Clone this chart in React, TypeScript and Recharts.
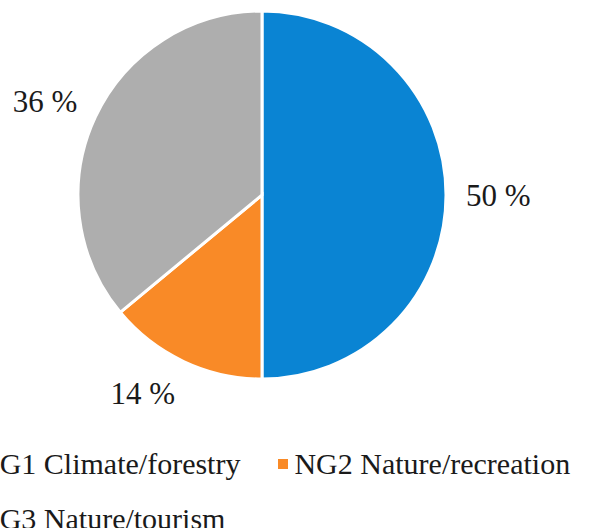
import React from 'react';
import { PieChart, Pie, Cell, Legend } from 'recharts';

const groups = ['NG1 Climate/forestry', 'NG2 Nature/recreation', 'NG3 Nature/tourism'];
const shares = [50, 14, 36];
const colors = ['#0A84D3', '#F98A27', '#AEAEAE'];

const data = groups.map((name, i) => ({ name, value: shares[i] }));

const RADIAN = Math.PI / 180;
const FONT = 'Liberation Serif';
const LABEL_SIZE = 31;

const renderLabel = (props: any) => {
  const { cx, cy, midAngle, outerRadius, value } = props;
  const cos = Math.cos(-midAngle * RADIAN);
  const sin = Math.sin(-midAngle * RADIAN);
  const r = outerRadius + 20;
  const ax = cx + r * cos;
  const ay = cy + r * sin;
  const anchor = Math.abs(cos) < 0.15 ? 'middle' : cos > 0 ? 'start' : 'end';
  // push the text box away from the pie vertically
  const y = ay + sin * (LABEL_SIZE / 2) + LABEL_SIZE * 0.35;
  return (
    <text x={ax} y={y} textAnchor={anchor} fill="#1a1a1a" fontSize={LABEL_SIZE} fontFamily={FONT}>
      {`${value} %`}
    </text>
  );
};

const renderLegend = () => (
  <div style={{ display: 'flex', flexWrap: 'wrap', width: 680, fontFamily: FONT, fontSize: 30, color: '#1a1a1a', lineHeight: '55px' }}>
    {data.map((d, i) => (
      <span key={d.name} style={{ display: 'inline-flex', alignItems: 'center', marginRight: 38, whiteSpace: 'nowrap' }}>
        <span style={{ width: 10, height: 10, background: colors[i], display: 'inline-block', marginRight: 6 }} />
        {d.name}
      </span>
    ))}
  </div>
);

export default function App() {
  return (
    <div style={{ position: 'absolute', left: 0, top: 0, width: 601, height: 528, overflow: 'hidden', background: '#fff' }}>
      <PieChart width={601} height={528} margin={{ top: 0, right: 0, bottom: 0, left: 0 }}>
        <Pie
          data={data}
          dataKey="value"
          cx={262}
          cy={195}
          outerRadius={184}
          startAngle={90}
          endAngle={-270}
          stroke="#fff"
          strokeWidth={3}
          label={renderLabel}
          labelLine={false}
          isAnimationActive={false}
        >
          {data.map((d, i) => (
            <Cell key={d.name} fill={colors[i]} />
          ))}
        </Pie>
        <Legend content={renderLegend} wrapperStyle={{ left: -38, top: 436, width: 680 }} />
      </PieChart>
    </div>
  );
}
